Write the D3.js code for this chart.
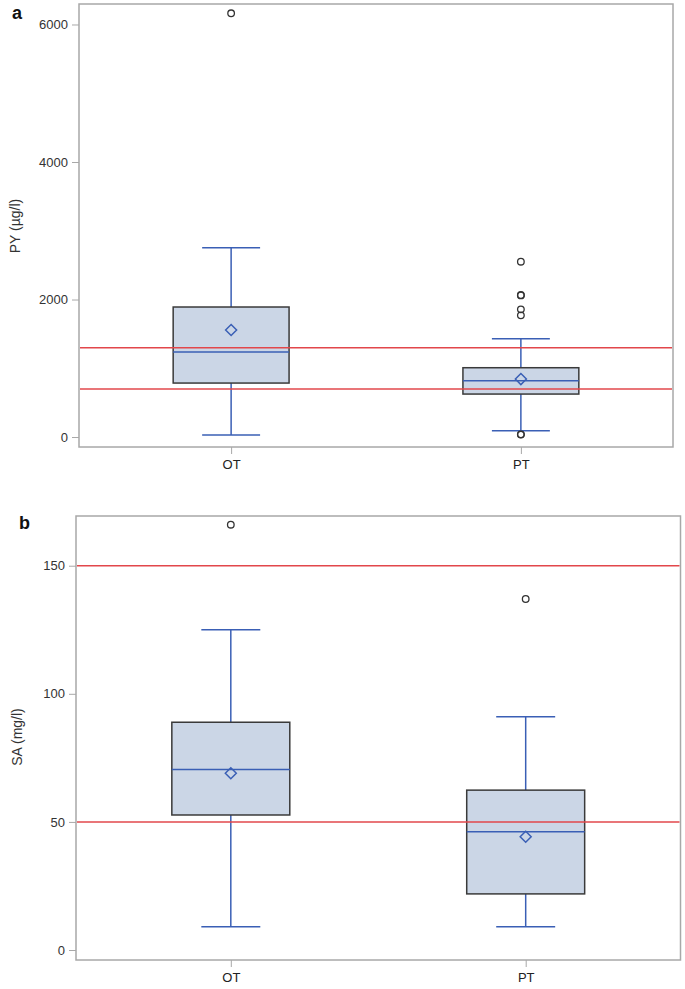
<!DOCTYPE html>
<html>
<head>
<meta charset="utf-8">
<script src="https://cdn.jsdelivr.net/npm/d3@7"></script>
<style>
  html, body { margin: 0; padding: 0; background: #fff; }
  svg { display: block; font-family: "Liberation Sans", Arial, sans-serif; }
</style>
</head>
<body>
<svg id="chart" width="685" height="989"></svg>
<script>
// ---- data ----
const categories = ["OT", "PT"];

// Panel a: PY (µg/l)
const pyLow     = [29, 92];
const pyQ1      = [785, 625];
const pyMedian  = [1236, 819];
const pyQ3      = [1891, 1008];
const pyHigh    = [2753, 1430];
const pyMean    = [1556, 843];
const pyOutliers = [[6163], [2550, 2065, 2060, 1857, 1770, 39, 35]];
const pyRefLines = [700, 1300];
const pyTicks = [0, 2000, 4000, 6000];

// Panel b: SA (mg/l)
const saLow     = [9.1, 9.1];
const saQ1      = [52.7, 21.9];
const saMedian  = [70.5, 46.2];
const saQ3      = [88.9, 62.4];
const saHigh    = [125, 91];
const saMean    = [69, 44.2];
const saOutliers = [[166], [137]];
const saRefLines = [50, 150];
const saTicks = [0, 50, 100, 150];

const svg = d3.select("#chart");

function panel(cfg) {
  const g = svg.append("g");
  const x = d3.scalePoint().domain(categories).range([cfg.left, cfg.right]).padding(0.525);
  const y = d3.scaleLinear().domain(cfg.domain).range([cfg.bottom, cfg.top]);
  const step = x.step();
  const boxW = step * 0.4, capW = step * 0.2;

  // frame
  g.append("rect")
    .attr("x", cfg.left).attr("y", cfg.top)
    .attr("width", cfg.right - cfg.left).attr("height", cfg.bottom - cfg.top)
    .attr("fill", "none").attr("stroke", "#a8a8a8").attr("stroke-width", 1.5);

  // y axis
  const yAxis = d3.axisLeft(y).tickValues(cfg.ticks).tickSize(7).tickPadding(4).tickFormat(d3.format("d"));
  const ya = g.append("g").attr("transform", `translate(${cfg.left},0)`).call(yAxis);
  ya.select(".domain").remove();
  ya.selectAll(".tick line").attr("stroke", "#a8a8a8");
  ya.selectAll(".tick text").attr("fill", "#333").style("font-size", "13px");

  // x axis
  const xAxis = d3.axisBottom(x).tickSize(7).tickPadding(6);
  const xa = g.append("g").attr("transform", `translate(0,${cfg.bottom})`).call(xAxis);
  xa.select(".domain").remove();
  xa.selectAll(".tick line").attr("stroke", "#a8a8a8");
  xa.selectAll(".tick text").attr("fill", "#222").style("font-size", "13px");

  const data = categories.map((c, i) => ({
    c, low: cfg.low[i], q1: cfg.q1[i], med: cfg.median[i], q3: cfg.q3[i],
    high: cfg.high[i], mean: cfg.mean[i], out: cfg.outliers[i]
  }));

  const b = g.selectAll(".box").data(data).enter().append("g");
  const blue = "#3a5fb5";
  // whiskers
  b.append("line").attr("x1", d => x(d.c)).attr("x2", d => x(d.c))
    .attr("y1", d => y(d.q3)).attr("y2", d => y(d.high)).attr("stroke", blue).attr("stroke-width", 1.5);
  b.append("line").attr("x1", d => x(d.c)).attr("x2", d => x(d.c))
    .attr("y1", d => y(d.q1)).attr("y2", d => y(d.low)).attr("stroke", blue).attr("stroke-width", 1.5);
  b.append("line").attr("x1", d => x(d.c) - capW / 2).attr("x2", d => x(d.c) + capW / 2)
    .attr("y1", d => y(d.high)).attr("y2", d => y(d.high)).attr("stroke", blue).attr("stroke-width", 1.5);
  b.append("line").attr("x1", d => x(d.c) - capW / 2).attr("x2", d => x(d.c) + capW / 2)
    .attr("y1", d => y(d.low)).attr("y2", d => y(d.low)).attr("stroke", blue).attr("stroke-width", 1.5);
  // box
  b.append("rect").attr("x", d => x(d.c) - boxW / 2).attr("width", boxW)
    .attr("y", d => y(d.q3)).attr("height", d => y(d.q1) - y(d.q3))
    .attr("fill", "#cbd6e6").attr("stroke", "#3a3a3a").attr("stroke-width", 1.5);
  // median
  b.append("line").attr("x1", d => x(d.c) - boxW / 2).attr("x2", d => x(d.c) + boxW / 2)
    .attr("y1", d => y(d.med)).attr("y2", d => y(d.med)).attr("stroke", blue).attr("stroke-width", 1.5);

  // reference lines
  g.selectAll(".ref").data(cfg.refs).enter().append("line")
    .attr("x1", cfg.left + 1).attr("x2", cfg.right - 1)
    .attr("y1", d => y(d)).attr("y2", d => y(d))
    .attr("stroke", "#e2474b").attr("stroke-width", 1.5);

  // mean diamonds
  b.append("path")
    .attr("d", d => { const cx = x(d.c), cy = y(d.mean), r = 5.5;
      return `M${cx},${cy - r}L${cx + r},${cy}L${cx},${cy + r}L${cx - r},${cy}Z`; })
    .attr("fill", "none").attr("stroke", blue).attr("stroke-width", 1.5);

  // outliers
  b.each(function (d) {
    d3.select(this).selectAll("circle").data(d.out).enter().append("circle")
      .attr("cx", x(d.c)).attr("cy", v => y(v)).attr("r", 3.3)
      .attr("fill", "none").attr("stroke", "#333").attr("stroke-width", 1.3);
  });

  // y title
  g.append("text")
    .attr("transform", `translate(${cfg.titleX},${cfg.titleY}) rotate(-90)`)
    .attr("text-anchor", "middle").attr("fill", "#333").style("font-size", "14px")
    .text(cfg.title);

  // panel letter
  g.append("text").attr("x", cfg.letterX).attr("y", cfg.letterY)
    .style("font-size", "18px").style("font-weight", "bold").attr("fill", "#111")
    .text(cfg.letter);
}

panel({
  left: 79, right: 673, top: 4, bottom: 447,
  domain: [-145, 6298], ticks: pyTicks,
  low: pyLow, q1: pyQ1, median: pyMedian, q3: pyQ3, high: pyHigh, mean: pyMean,
  outliers: pyOutliers, refs: pyRefLines,
  title: "PY (µg/l)", titleX: 20, titleY: 226,
  letter: "a", letterX: 12, letterY: 19
});

panel({
  left: 76, right: 680.5, top: 516, bottom: 960,
  domain: [-3.9, 169.4], ticks: saTicks,
  low: saLow, q1: saQ1, median: saMedian, q3: saQ3, high: saHigh, mean: saMean,
  outliers: saOutliers, refs: saRefLines,
  title: "SA (mg/l)", titleX: 22, titleY: 737,
  letter: "b", letterX: 19, letterY: 529
});
</script>
</body>
</html>
